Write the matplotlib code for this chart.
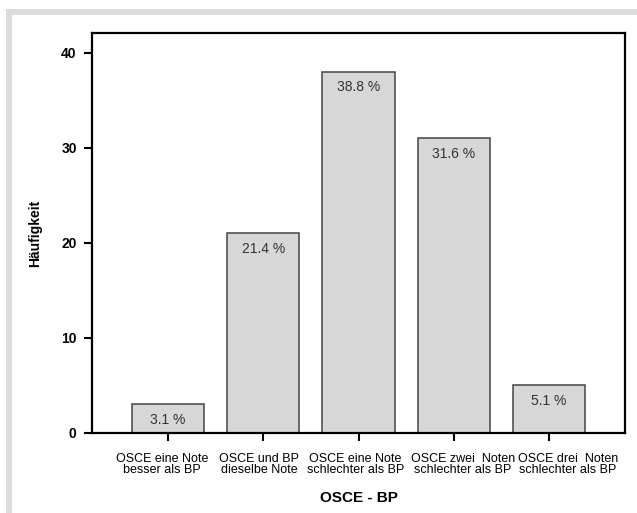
import matplotlib
matplotlib.use("Agg")
import matplotlib.pyplot as plt
from matplotlib.patches import Rectangle
from matplotlib.transforms import ScaledTranslation

categories = ["OSCE eine Note\nbesser als BP",
              "OSCE und BP\ndieselbe Note",
              "OSCE eine Note\nschlechter als BP",
              "OSCE zwei  Noten\nschlechter als BP",
              "OSCE drei  Noten\nschlechter als BP"]
counts = [3, 21, 38, 31, 5]
percent_labels = ["3.1 %", "21.4 %", "38.8 %", "31.6 %", "5.1 %"]
yticks = [0, 10, 20, 30, 40]
label_shift_px = [-6, -4, -3, 9, 19]   # horizontal offsets of category labels (layout)

plt.rcParams['font.family'] = ['Liberation Sans', 'DejaVu Sans']

fig = plt.figure(figsize=(6.37, 5.13), dpi=100)
fig.patch.set_facecolor('white')

# gray frame
W, H = 637, 513
fig.patches.append(Rectangle((6 / W, 0), (W - 6) / W, (H - 9) / H, transform=fig.transFigure,
                             facecolor='#dcdcdc', edgecolor='none', zorder=-2))
fig.patches.append(Rectangle((12 / W, 0), (W - 12) / W, (H - 15) / H, transform=fig.transFigure,
                             facecolor='white', edgecolor='none', zorder=-1))

ax = fig.add_axes([92 / W, 80 / H, (625 - 92) / W, (433 - 33) / H])
ax.set_zorder(1)
ax.set_facecolor('white')
x = list(range(len(categories)))
bars = ax.bar(x, counts, width=0.76, color='#d7d7d7', edgecolor='#444444', linewidth=1.1, zorder=2)
for xi, c, lab in zip(x, counts, percent_labels):
    ax.text(xi, c - 1.6, lab, ha='center', va='center', fontsize=10, color='#333333', zorder=3)

ax.set_xlim(-0.8, 4.8)
ax.set_ylim(0, 42.1)
ax.set_yticks(yticks)
ax.set_yticklabels([str(v) for v in yticks], fontsize=10, fontweight='bold')
ax.set_xticks(x)
ax.tick_params(axis='x', labelbottom=False)
for xi, cat, dx in zip(x, categories, label_shift_px):
    tr = ax.get_xaxis_transform() + ScaledTranslation(dx / 100, -20 / 100, fig.dpi_scale_trans)
    ax.text(xi, 0, cat, transform=tr, ha='center', va='top', multialignment='center',
            fontsize=9, linespacing=0.9, clip_on=False)
ax.tick_params(axis='y', length=6, width=1.5, pad=5)
ax.tick_params(axis='x', length=6, width=1.5)
for s in ax.spines.values():
    s.set_linewidth(1.6)
    s.set_color('black')

ax.set_ylabel('Häufigkeit', fontsize=10, fontweight='bold', labelpad=14)
ax.set_xlabel('OSCE - BP', fontsize=11, fontweight='bold', va='top')
ax.xaxis.set_label_coords(0.5, -0.145)

fig.savefig('out.png', dpi=100, facecolor=fig.get_facecolor())
